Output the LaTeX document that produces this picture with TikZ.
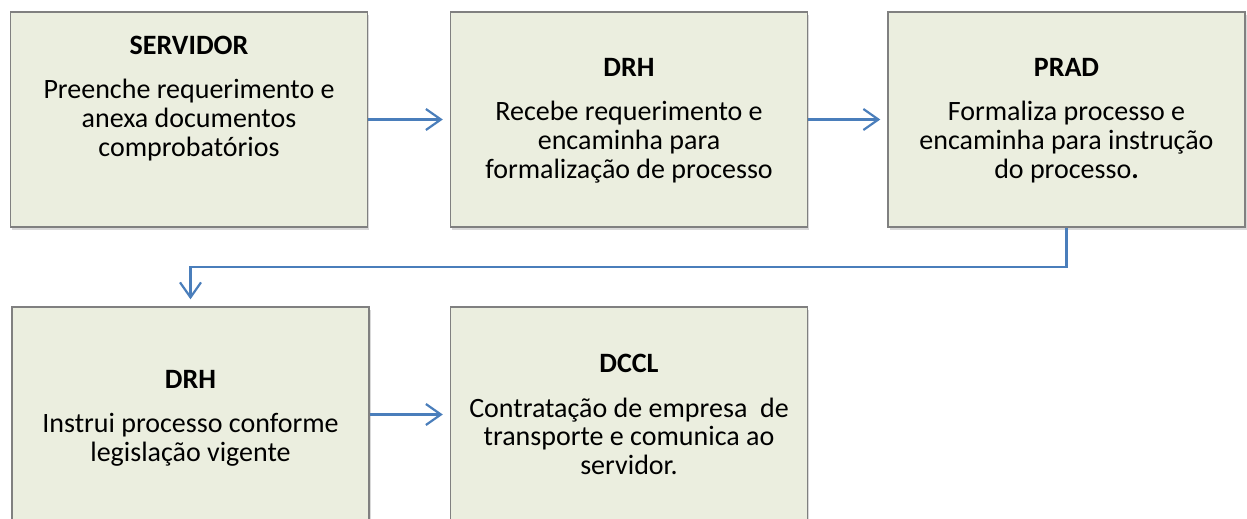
\documentclass[tikz,border=0pt]{standalone}
\usepackage{fontspec}
\setmainfont{Carlito}
\usepackage{tikz}
\usetikzlibrary{arrows.meta}
\usetikzlibrary{shadows}
\definecolor{boxfill}{RGB}{235,238,223}
\definecolor{boxline}{RGB}{128,128,128}
\definecolor{edgeblue}{RGB}{74,126,187}
\tikzset{%
  myedge/.style={->, draw=edgeblue, line width=2.2pt, shorten >=7pt, >={Straight Barb[length=15pt,width=21pt]}},
  mybox/.style={rectangle, draw=boxline, line width=1.4pt, fill=boxfill, minimum width=357pt, minimum height=215pt,
    drop shadow={shadow xshift=1.5pt, shadow yshift=-3pt, opacity=0.3}},
  mytext/.style={align=center, anchor=north, inner sep=0pt, font=\fontsize{28}{28.8}\selectfont}
}

\begin{document}
\begin{tikzpicture}[x=1pt, y=-1pt]
\useasboundingbox (0,0) rectangle (1247,519);

\foreach \n / \x / \y in {1/189/119.5, 2/629/119.5, 3/1066.5/119.5, 4/190.5/414.5, 5/629/414.5} {
  \node [mybox] (S\n) at (\x,\y) {};
}

% texts
\node [mytext] (T1) at (189,36) {\textbf{SERVIDOR}\\[15.5pt]Preenche requerimento e\\anexa documentos\\comprobatórios};
\node [mytext] (T2) at (629,58) {\textbf{DRH}\\[15.5pt]Recebe requerimento e\\encaminha para\\formalização de processo};
\node [mytext] (T3) at (1066.5,58) {\textbf{PRAD}\\[15.5pt]Formaliza processo e\\encaminha para instrução\\do processo\textbf{.}};
\node [mytext] (T4) at (190.5,370.3) {\textbf{DRH}\\[15.5pt]Instrui processo conforme\\legislação vigente};
\node [mytext] (T5) at (629,354.3) {\textbf{DCCL}\\[15.5pt]Contratação de empresa\ \ de\\transporte e comunica ao\\servidor.};

\coordinate (turn) at (1066.5,267);

\draw [myedge] (S1) -- (S2);
\draw [myedge] (S2) -- (S3);
\draw [myedge] (S3.south) -- (turn) -| (S4.north);
\draw [myedge] (S4) -- (S5);

\end{tikzpicture}
\end{document}
